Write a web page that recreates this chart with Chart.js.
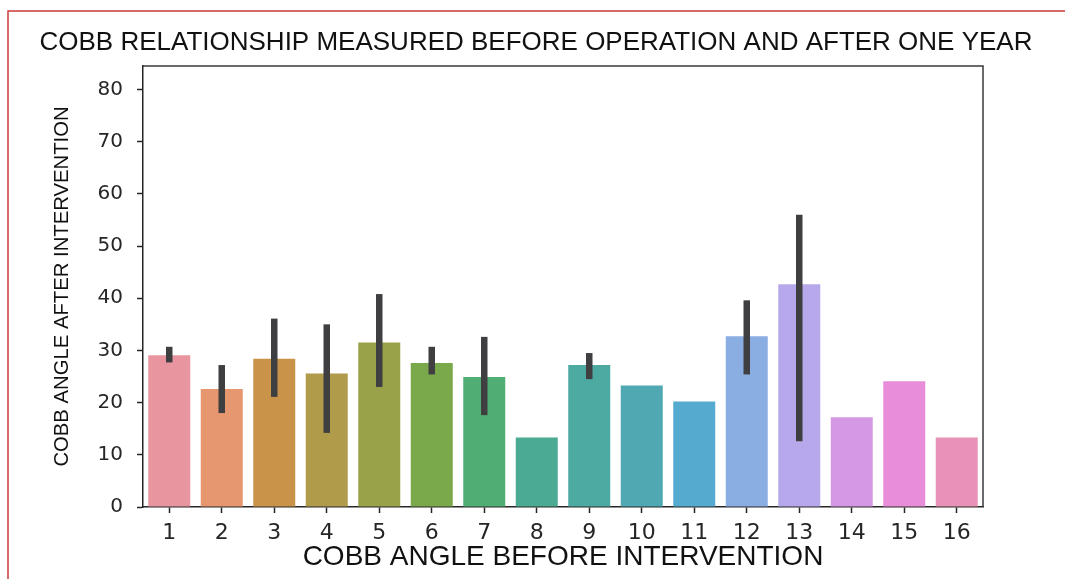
<!DOCTYPE html>
<html>
<head>
<meta charset="utf-8">
<title>Cobb angle before and after intervention</title>
<script src="https://cdn.jsdelivr.net/npm/chart.js@4.4.1/dist/chart.umd.min.js"></script>
<style>
  html, body { margin: 0; padding: 0; background: #ffffff; overflow: hidden; }
  #wrap { position: relative; width: 1065px; height: 579px; }
</style>
</head>
<body>
<div id="wrap"><canvas id="chart" width="1065" height="579"></canvas></div>
<script>
// Cobb angle measured before the operation (category) and mean angle one year after
const categories = ['1', '2', '3', '4', '5', '6', '7', '8', '9', '10', '11', '12', '13', '14', '15', '16'];
const meanAfter = [29.1, 22.6, 28.4, 25.6, 31.5, 27.6, 24.9, 13.3, 27.2, 23.3, 20.2, 32.7, 42.7, 17.2, 24.1, 13.3];
// 95% confidence interval of the mean (null where only one observation exists)
const ciLow  = [27.7, 18.0, 21.1, 14.2, 23.0, 25.4, 17.6, null, 24.5, null, null, 25.4, 12.6, null, null, null];
const ciHigh = [30.7, 27.2, 36.1, 35.0, 40.8, 30.7, 32.6, null, 29.5, null, null, 39.6, 56.0, null, null, null];
const barColors = ['#e8959f', '#e6976f', '#c9944a', '#b09b4a', '#9aa249', '#7aa94b', '#50ad74', '#4aaa92',
                   '#4caaa2', '#4fa8b2', '#55aacf', '#8aaee2', '#b6a8ea', '#d598e4', '#e88dd8', '#e892b8'];
const yTicks = [0, 10, 20, 30, 40, 50, 60, 70, 80];

const chartTitle = 'COBB RELATIONSHIP MEASURED BEFORE OPERATION AND AFTER ONE YEAR';
const xTitle = 'COBB ANGLE BEFORE INTERVENTION';
const yTitle = 'COBB ANGLE AFTER INTERVENTION';

const INK = '#262626';

// white page with the thin red frame on the top and left edges
const pageFrame = {
  id: 'pageFrame',
  beforeDraw(chart) {
    const ctx = chart.ctx;
    ctx.save();
    ctx.fillStyle = '#ffffff';
    ctx.fillRect(0, 0, chart.width, chart.height);
    ctx.strokeStyle = '#cc3a3a';
    ctx.lineWidth = 1.5;
    ctx.beginPath();
    ctx.moveTo(8, chart.height);
    ctx.lineTo(8, 11);
    ctx.lineTo(chart.width, 11);
    ctx.stroke();
    ctx.restore();
  }
};

// heading centred over the page
const pageTitle = {
  id: 'pageTitle',
  afterDraw(chart) {
    const ctx = chart.ctx;
    ctx.save();
    ctx.fillStyle = '#111111';
    ctx.font = '26px "Liberation Sans", Arial, sans-serif';
    ctx.textAlign = 'center';
    ctx.textBaseline = 'middle';
    ctx.fillText(chartTitle, 536, 43);
    ctx.restore();
  }
};

// confidence-interval whiskers drawn through the chart's scales
const errorBars = {
  id: 'errorBars',
  afterDatasetsDraw(chart) {
    const ctx = chart.ctx;
    const xs = chart.scales.x, ys = chart.scales.y;
    ctx.save();
    ctx.strokeStyle = '#3f3f42';
    ctx.lineWidth = 6.5;
    ctx.lineCap = 'butt';
    categories.forEach((c, i) => {
      if (ciLow[i] === null || ciHigh[i] === null) return;
      const x = xs.getPixelForValue(i);
      ctx.beginPath();
      ctx.moveTo(x, ys.getPixelForValue(ciLow[i]));
      ctx.lineTo(x, ys.getPixelForValue(ciHigh[i]));
      ctx.stroke();
    });
    ctx.restore();
  }
};

// top and right spines closing the axes box
const axesBox = {
  id: 'axesBox',
  afterDraw(chart) {
    const a = chart.chartArea;
    const ctx = chart.ctx;
    ctx.save();
    ctx.strokeStyle = '#3a3a3a';
    ctx.lineWidth = 1.5;
    ctx.beginPath();
    ctx.moveTo(a.left, a.top);
    ctx.lineTo(a.right, a.top);
    ctx.lineTo(a.right, a.bottom);
    ctx.stroke();
    ctx.restore();
  }
};

new Chart(document.getElementById('chart'), {
  type: 'bar',
  data: {
    labels: categories,
    datasets: [{
      data: meanAfter,
      backgroundColor: barColors,
      borderWidth: 0,
      categoryPercentage: 1.0,
      barPercentage: 0.8
    }]
  },
  options: {
    responsive: false,
    animation: false,
    devicePixelRatio: 1,
    layout: { padding: { left: 0, right: 82, top: 66, bottom: 0 } },
    plugins: {
      legend: { display: false },
      tooltip: { enabled: false },
      title: { display: false }
    },
    scales: {
      x: {
        type: 'category',
        offset: true,
        grid: { display: true, offset: false, drawOnChartArea: false, drawTicks: true, tickLength: 6, color: INK, tickWidth: 1.5 },
        border: { display: true, color: INK, width: 1.5 },
        ticks: { color: INK, font: { family: 'DejaVu Sans', size: 22 }, padding: 7, maxRotation: 0, autoSkip: false },
        title: { display: true, text: xTitle, color: '#111111', font: { family: 'Liberation Sans', size: 28 }, padding: { top: 0, bottom: 5.2 } },
        afterFit(scale) { scale.height = 72; }
      },
      y: {
        min: 0,
        max: 84.5,
        grid: { display: true, drawOnChartArea: false, drawTicks: true, tickLength: 6, color: INK, tickWidth: 1.5 },
        border: { display: true, color: INK, width: 1.5 },
        ticks: { color: INK, font: { family: 'DejaVu Sans', size: 20 }, padding: 14, stepSize: 10, includeBounds: false },
        afterBuildTicks(scale) { scale.ticks = yTicks.map(v => ({ value: v })); },
        title: { display: true, text: yTitle, color: '#111111', font: { family: 'Liberation Sans', size: 20.3 }, padding: { top: 49.8, bottom: 0 } },
        afterFit(scale) { scale.width = 143; }
      }
    }
  },
  plugins: [pageFrame, errorBars, axesBox, pageTitle]
});
</script>
</body>
</html>
